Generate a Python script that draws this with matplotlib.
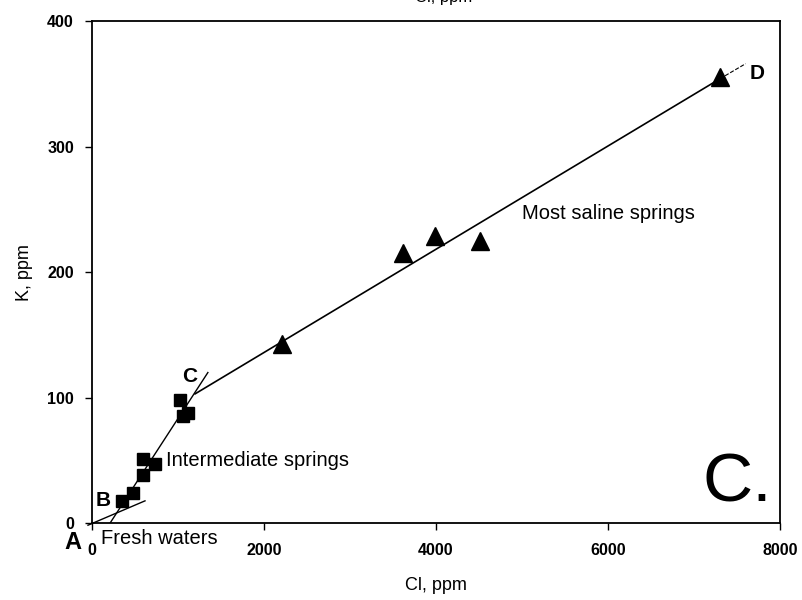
import matplotlib.pyplot as plt

plt.rcParams['font.family'] = ['Liberation Sans', 'DejaVu Sans']

# intermediate springs (squares)
sq_cl = [350, 475, 590, 590, 730, 1020, 1060, 1115]
sq_k = [18, 24, 38, 51, 47, 98, 85, 88]

# most saline springs (triangles)
tri_cl = [2210, 3616, 3988, 4512, 7302]
tri_k = [143, 215, 229, 225, 355]

# mixing lines
ab_cl = [-47, 616]
ab_k = [-1.6, 17.8]
bc_cl = [209, 1347]
bc_k = [0, 120]
cd_cl = [1198, 7302]
cd_k = [103, 354]
dd_cl = [7302, 7600]
dd_k = [354, 366]

fig = plt.figure(figsize=(8.03, 6), dpi=100)
ax = fig.add_axes([0.1146, 0.128, 0.8568, 0.837])

ax.plot(ab_cl, ab_k, color='black', lw=1.0, clip_on=False)
ax.plot(bc_cl, bc_k, color='black', lw=1.0)
ax.plot(cd_cl, cd_k, color='black', lw=1.2)
ax.plot(dd_cl, dd_k, color='black', lw=0.8, ls='--')

ax.plot(sq_cl, sq_k, 's', color='black', ms=9, ls='none')
ax.plot(tri_cl, tri_k, '^', color='black', ms=13, ls='none')

ax.set_xlim(0, 8000)
ax.set_ylim(0, 400)
ax.set_xticks([0, 2000, 4000, 6000, 8000])
ax.set_yticks([0, 100, 200, 300, 400])
ax.tick_params(direction='out', length=5, width=1, labelsize=11.5)
ax.tick_params(axis='x', pad=9)
ax.tick_params(axis='y', pad=8)
for lab in ax.get_xticklabels() + ax.get_yticklabels():
    lab.set_fontweight('bold')
for s in ax.spines.values():
    s.set_linewidth(1.3)

ax.set_xlabel('Cl, ppm', fontsize=13, labelpad=14)
ax.set_ylabel('K, ppm', fontsize=13, labelpad=10)

# cut-off label at the very top
fig.text(0.552, 1.005, 'Cl, ppm', fontsize=12, ha='center', va='center')

ax.text(-120, -15, 'A', fontsize=17, fontweight='bold', ha='right', va='center')
ax.text(110, -12, 'Fresh waters', fontsize=14.5, va='center')
ax.text(130, 18, 'B', fontsize=15, fontweight='bold', ha='center', va='center')
ax.text(860, 50, 'Intermediate springs', fontsize=14.5, va='center')
ax.text(1130, 117, 'C', fontsize=15, fontweight='bold', ha='center', va='center')
ax.text(5000, 247, 'Most saline springs', fontsize=14.5, va='center')
ax.text(7650, 358, 'D', fontsize=15, fontweight='bold', va='center')
ax.text(7100, 17, 'C.', fontsize=50, va='baseline')

fig.savefig('out.png', dpi=100)
